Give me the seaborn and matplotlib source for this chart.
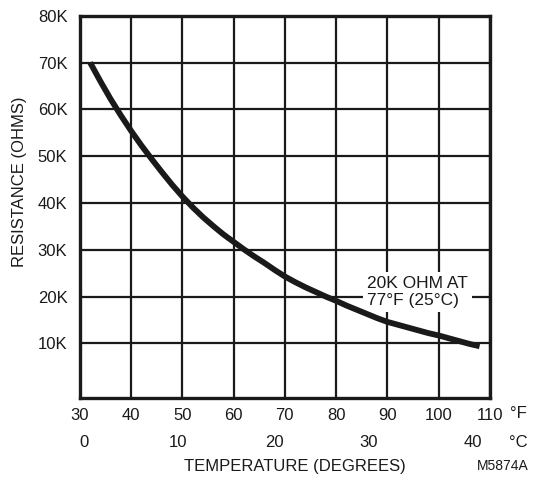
import matplotlib
matplotlib.use('Agg')
import matplotlib.pyplot as plt
import seaborn as sns
import pandas as pd

# curve values (deg F, kilo-ohms)
temp_f = [32, 34, 36, 38, 40, 42, 44, 46, 48, 50, 52, 54, 56, 58, 60,
          62, 64, 66, 68, 70, 72, 74, 76, 78, 80, 82, 84, 86, 88, 90,
          92, 94, 96, 98, 100, 102, 104, 106, 108]
resistance_k = [70.0, 66.0, 62.2, 58.7, 55.4, 52.3, 49.4, 46.6, 43.9, 41.4,
                39.1, 37.0, 35.1, 33.3, 31.7, 30.1, 28.6, 27.2, 25.7, 24.3,
                23.1, 22.0, 21.0, 20.0, 19.1, 18.1, 17.2, 16.3, 15.4, 14.6,
                14.0, 13.4, 12.8, 12.2, 11.7, 11.1, 10.5, 9.9, 9.4]

f_ticks = [30, 40, 50, 60, 70, 80, 90, 100, 110]
c_labels = ['0', '10', '20', '30', '40']
c_label_pos = [30.8, 49.1, 67.9, 86.4, 106.6]
r_ticks = [10, 20, 30, 40, 50, 60, 70, 80]
r_labels = ['10K', '20K', '30K', '40K', '50K', '60K', '70K', '80K']

df = pd.DataFrame({'temp': temp_f, 'res': resistance_k})

sns.set_style('white')
plt.rcParams['font.family'] = ['Liberation Sans', 'DejaVu Sans']
ink = '#1a1a1a'

fig = plt.figure(figsize=(5.51, 4.78), dpi=100)
ax = fig.add_axes([0.145, 0.167, 0.744, 0.800])

sns.lineplot(data=df, x='temp', y='res', ax=ax, color=ink, linewidth=4.2,
             solid_capstyle='butt', zorder=3)

ax.set_xlim(30, 110)
ax.set_ylim(-1.7, 80)
ax.set_xticks(f_ticks)
ax.set_xticklabels([str(t) for t in f_ticks])
ax.set_yticks(r_ticks)
ax.set_yticklabels(r_labels)
ax.tick_params(axis='both', length=0, labelsize=12, colors=ink)
ax.tick_params(axis='x', pad=7)
ax.tick_params(axis='y', pad=9)

ax.grid(True, color=ink, linewidth=1.6)
ax.set_axisbelow(True)
for s in ax.spines.values():
    s.set_visible(True)
    s.set_color(ink)
    s.set_linewidth(2.4)

ax.set_xlabel('')
ax.set_ylabel('')
fig.text(20 / 551, 1 - 182 / 478, 'RESISTANCE (OHMS)', rotation=90,
         ha='center', va='center', fontsize=12, color=ink)

# celsius row under the fahrenheit ticks
trans = ax.get_xaxis_transform()
for pos, lab in zip(c_label_pos, c_labels):
    ax.text(pos, -0.115, lab, transform=trans, ha='center', va='center',
            fontsize=12, color=ink)
ax.text(1.07, -0.04, '°F', transform=ax.transAxes, ha='center', va='center',
        fontsize=12, color=ink)
ax.text(1.07, -0.115, '°C', transform=ax.transAxes, ha='center', va='center',
        fontsize=12, color=ink)

fig.text(0.535, 0.025, 'TEMPERATURE (DEGREES)', ha='center', va='center',
         fontsize=12, color=ink)
fig.text(0.913, 0.025, 'M5874A', ha='center', va='center', fontsize=10, color=ink)

# white box hides the grid behind the note, curve stays on top
ax.text(86, 20.9, '20K OHM AT\n77°F (25°C)', ha='left', va='center',
        fontsize=12.5, color=ink, linespacing=1.15, zorder=2,
        bbox=dict(facecolor='white', edgecolor='none', pad=3))

fig.savefig('out.png', dpi=100)
